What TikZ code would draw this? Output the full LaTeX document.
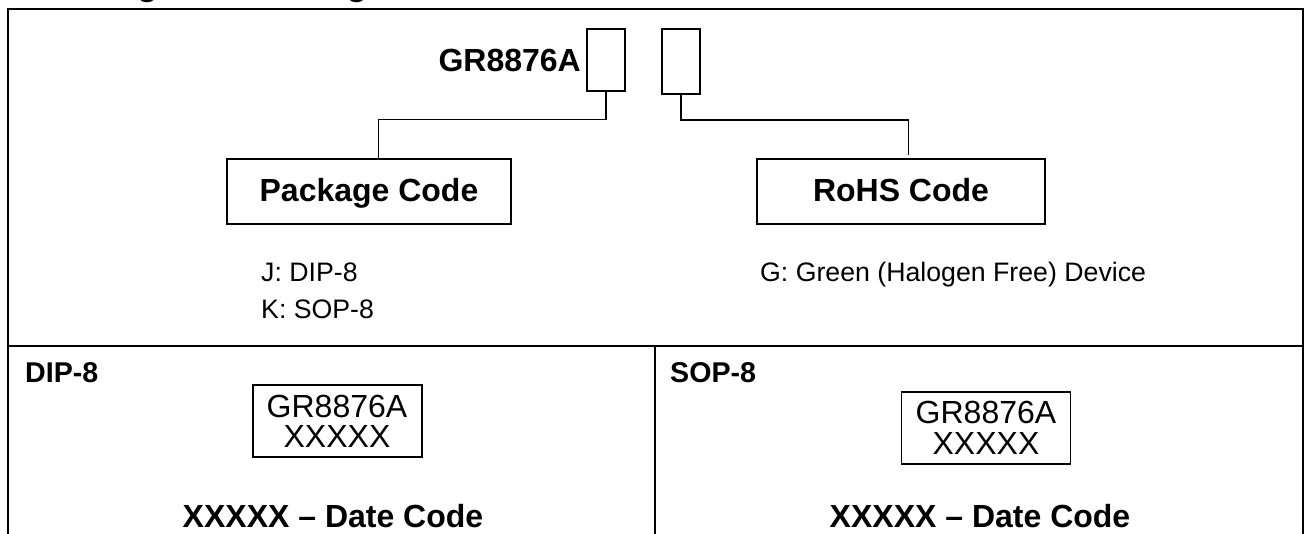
\documentclass[tikz,border=0pt]{standalone}
\usepackage{fontspec}
\setmainfont{Liberation Sans}
\tikzset{
  x=1pt,y=-1pt,
  ln/.style={draw=black,line width=1.2pt},
  boxln/.style={ln,inner sep=0pt},
  frame/.style={draw=black,line width=2pt},
  txt/.style={inner sep=0pt,anchor=base,text=black},
  hd/.style={txt,font=\bfseries\fontsize{32}{32}\selectfont},
  subhd/.style={txt,anchor=base west,font=\bfseries\fontsize{28.6}{29}\selectfont},
  body/.style={txt,anchor=base west,font=\fontsize{26.7}{27}\selectfont},
  marktxt/.style={txt,font=\fontsize{32}{32}\selectfont}
}
\begin{document}
\begin{tikzpicture}
\useasboundingbox (0,0) rectangle (1305,534);
\clip (0,0) rectangle (1305,534);
\fill[white] (0,0) rectangle (1305,534);
\node[txt,anchor=base west,font=\bfseries\fontsize{34}{34}\selectfont] (title) at (14,-4.5) {Ordering and Marking Information};
\coordinate (tl) at (8,9); \coordinate (tr) at (1303,9);
\coordinate (ml) at (8,346); \coordinate (mr) at (1303,346);
\coordinate (bl) at (8,540); \coordinate (br) at (1303,540);
\coordinate (mc) at (655,346); \coordinate (bc) at (655,540);
\draw[frame] (bl) -- (tl) -- (tr) -- (br);
\draw[frame] (ml) -- (mr);
\draw[frame] (mc) -- (bc);
\node[hd,anchor=base east] (part) at (581,72) {GR8876A};
\node[boxln,minimum width=38pt,minimum height=62pt] (b1) at (606,60) {};
\node[boxln,minimum width=38pt,minimum height=65pt] (b2) at (681,61.5) {};
\node[boxln,minimum width=284pt,minimum height=65pt] (pc) at (369,191.5) {};
\node[boxln,minimum width=288pt,minimum height=65pt] (rc) at (901,191.5) {};
\node[hd] (pct) at (369,202) {Package Code};
\node[hd] (rct) at (901,202) {RoHS Code};
\coordinate (e2) at (908.5,155);
\draw[ln] (b1.south) -- (606,119.5) -- (378.5,119.5) -- (378.5,159);
\draw[ln] (b2.south) -- (681,120) -- (908.5,120) -- (e2);
\node[body] (j) at (261,282) {J: DIP-8};
\node[body] (k) at (261,318) {K: SOP-8};
\node[body] (g) at (760,282) {G: Green (Halogen Free) Device};
\node[subhd] (d8) at (25,382) {DIP-8};
\node[subhd] (s8) at (670,382) {SOP-8};
\node[boxln,minimum width=169pt,minimum height=72pt] (m1) at (337.5,421) {};
\node[boxln,minimum width=169pt,minimum height=72pt] (m2) at (986,428) {};
\node[marktxt] (m1a) at (337,417) {GR8876A};
\node[marktxt] (m1b) at (337,447) {XXXXX};
\node[marktxt] (m2a) at (986,423) {GR8876A};
\node[marktxt] (m2b) at (986,454) {XXXXX};
\node[hd] (dc1) at (333,527) {XXXXX – Date Code};
\node[hd] (dc2) at (980,527) {XXXXX – Date Code};
\end{tikzpicture}
\end{document}
